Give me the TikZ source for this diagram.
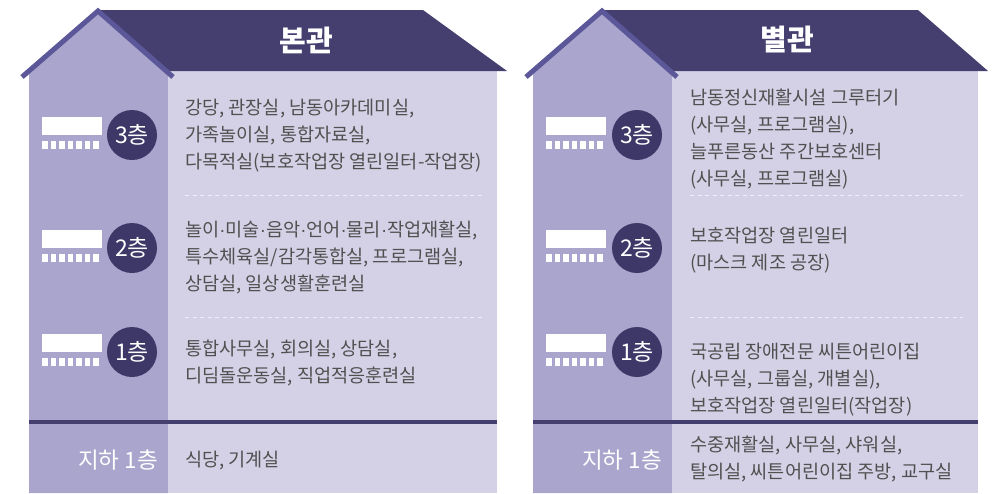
\documentclass[tikz,border=0pt]{standalone}
\usepackage{fontspec}
\setmainfont{Noto Sans CJK KR}
\newfontfamily\dotfont{Liberation Sans}
\newcommand{\md}{{\dotfont ·}}
\definecolor{roofdark}{HTML}{453F70}
\definecolor{circdark}{HTML}{3D3868}
\definecolor{walldark}{HTML}{A9A5CD}
\definecolor{walllight}{HTML}{D4D1E6}
\definecolor{gablecol}{HTML}{5B5798}
\definecolor{txtgray}{HTML}{505050}
\definecolor{dashcol}{HTML}{EEEDF5}
\tikzset{
  roomtext/.style={anchor=west, align=left, inner sep=0pt, text=txtgray, font=\fontsize{18.6}{27}\selectfont},
  floorcirc/.style={circle, fill=circdark, minimum size=50pt, inner sep=0pt, text=white, font=\fontsize{23}{23}\selectfont},
  titletext/.style={text=white, font=\fontsize{29}{29}\selectfont\bfseries, inner sep=0pt},
  basetext/.style={anchor=east, text=white, font=\fontsize{22.5}{22.5}\selectfont, inner sep=0pt},
  divline/.style={dashcol, line width=1pt, dash pattern=on 4pt off 3.5pt},
  baseline/.style={roofdark, line width=4pt},
  gable/.style={gablecol, line width=5pt},
  markrect/.style={fill=white, draw=none},
}
\begin{document}
\begin{tikzpicture}[x=1pt,y=-1pt]
\useasboundingbox (0,0) rectangle (998,493);
% ---------- left building ----------
\fill[walldark] (29,493) -- (29,70) -- (98,10) -- (168,70) -- (168,493) -- cycle;
\fill[walllight] (168,71) rectangle (497,493);
\fill[roofdark] (98,10) -- (423,10) -- (507,71) -- (165,71) -- cycle;
\draw[gable] (22,77) -- (98,11) -- (173,77);
\draw[baseline] (29,422) -- (497,422);
\draw[divline] (185,195) -- (482,195);
\draw[divline] (185,317) -- (482,317);
\node[titletext] (t1) at (306,40) {본관};
% markers
\foreach \yy/\lab/\nm in {135/3층/a3, 248/2층/a2, 352/1층/a1}{
  \fill[markrect] (42,\yy-18) rectangle (102,\yy);
  \foreach \i in {0,...,6}{
    \fill[markrect] (42+\i*8.5,\yy+6) rectangle (42+\i*8.5+5.8,\yy+14);
  }
  \node[floorcirc] (\nm) at (132,\yy) {\lab};
}
\node[basetext] (ab) at (158,460) {지하 1층};
\node[roomtext] (l3) at (185,136) {강당, 관장실, 남동아카데미실,\\가족놀이실, 통합자료실,\\다목적실(보호작업장 열린일터-작업장)};
\node[roomtext] (l2) at (185,257) {놀이\md 미술\md 음악\md 언어\md 물리\md 작업재활실,\\특수체육실/감각통합실, 프로그램실,\\상담실, 일상생활훈련실};
\node[roomtext] (l1) at (185,363) {통합사무실, 회의실, 상담실,\\디딤돌운동실, 직업적응훈련실};
\node[roomtext] (lb) at (185,461) {식당, 기계실};
% ---------- right building ----------
\fill[walldark] (533,493) -- (533,70) -- (602,10) -- (672,70) -- (672,493) -- cycle;
\fill[walllight] (672,71) rectangle (978,493);
\fill[roofdark] (602,10) -- (918,10) -- (988,71) -- (669,71) -- cycle;
\draw[gable] (526,77) -- (602,11) -- (677,77);
\draw[baseline] (533,422) -- (978,422);
\draw[divline] (690,195) -- (963,195);
\draw[divline] (690,317) -- (963,317);
\node[titletext] (t2) at (787,40) {별관};
\foreach \yy/\lab/\nm in {135/3층/b3, 248/2층/b2, 352/1층/b1}{
  \fill[markrect] (546,\yy-18) rectangle (606,\yy);
  \foreach \i in {0,...,6}{
    \fill[markrect] (546+\i*8.5,\yy+6) rectangle (546+\i*8.5+5.8,\yy+14);
  }
  \node[floorcirc] (\nm) at (637,\yy) {\lab};
}
\node[basetext] (bb) at (662,460) {지하 1층};
\node[roomtext] (r3) at (690,139) {남동정신재활시설 그루터기\\(사무실, 프로그램실),\\늘푸른동산 주간보호센터\\(사무실, 프로그램실)};
\node[roomtext] (r2) at (690,250) {보호작업장 열린일터\\(마스크 제조 공장)};
\node[roomtext] (r1) at (690,380) {국공립 장애전문 씨튼어린이집\\(사무실, 그룹실, 개별실),\\보호작업장 열린일터(작업장)};
\node[roomtext] (rb) at (690,459) {수중재활실, 사무실, 샤워실,\\탈의실, 씨튼어린이집 주방, 교구실};
\end{tikzpicture}
\end{document}
